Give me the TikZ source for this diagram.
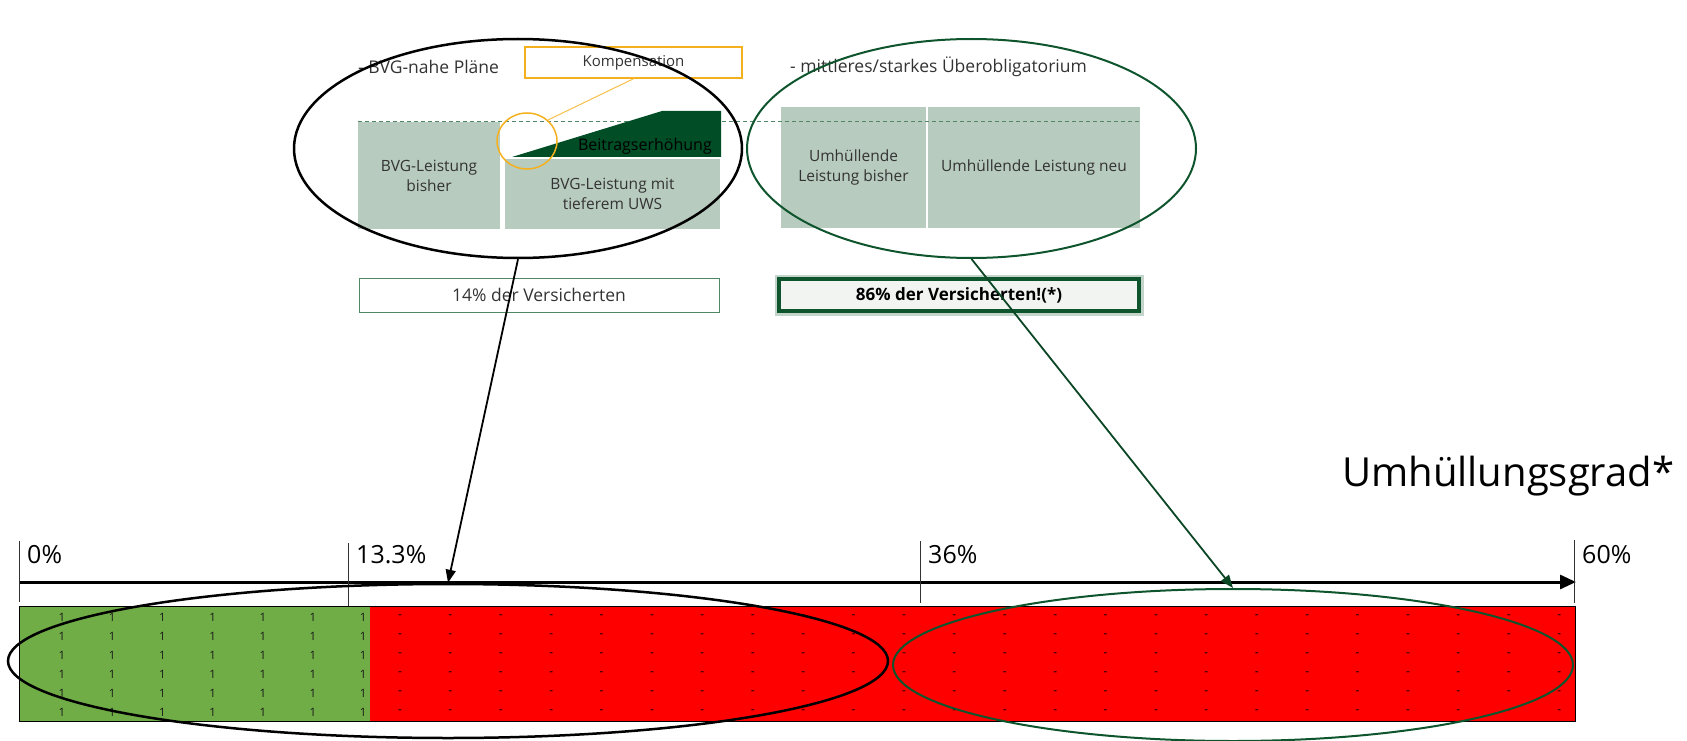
\documentclass[tikz,border=0pt]{standalone}
\usepackage{fontspec}
\setmainfont{Open Sans}
\usetikzlibrary{arrows.meta,positioning,shapes.geometric}

\definecolor{boxgray}{RGB}{184,203,191}
\definecolor{darkgreen}{RGB}{0,77,38}
\definecolor{ovalgreen}{RGB}{14,84,44}
\definecolor{komporange}{RGB}{245,176,30}
\definecolor{linegreen}{RGB}{80,135,100}
\definecolor{barred}{RGB}{255,0,0}
\definecolor{bargreen}{RGB}{112,173,71}
\definecolor{textgray}{RGB}{51,51,51}
\definecolor{sharefill}{RGB}{242,244,242}

\begin{document}
\begin{tikzpicture}[x=1pt,y=-1pt,
    fs/.style 2 args={font=\fontsize{#1}{#2}\selectfont},
    box/.style={fill=boxgray, inner sep=0pt, align=center, text=textgray, fs={15.5}{20}},
    oval/.style={ellipse, draw, inner sep=0pt},
    ticklabel/.style={fs={25}{30}, anchor=base west, inner sep=0pt},
    cell/.style={fs={11.5}{13}, inner sep=0pt, text=black!90}]
    \useasboundingbox (0,0) rectangle (1687,741);

    % BVG-nahe Plaene
    \node[fs={17.5}{20}, text=textgray, anchor=base west, inner sep=0pt] (hdrL) at (358,74) {- BVG-nahe Pläne};
    \node[box, minimum width=142pt, minimum height=107pt] (oldL) at (429,175.5) {BVG-Leistung\\bisher};
    \node[box, minimum width=215pt, minimum height=70pt] (newL) at (612.5,194) {BVG-Leistung mit\\tieferem UWS};

    % Ueberobligatorium
    \node[fs={17.5}{20}, text=textgray, anchor=base west, inner sep=0pt] (hdrR) at (790,73) {- mittleres/starkes Überobligatorium};
    \node[box, minimum width=145pt, minimum height=121pt] (oldR) at (853.5,167.5) {Umhüllende\\Leistung bisher};
    \node[box, minimum width=212pt, minimum height=121pt] (newR) at (1034,167.5) {Umhüllende Leistung neu};

    % dashed level line and contribution wedge
    \draw[linegreen, line width=0.9pt, dash pattern=on 4pt off 3pt] (358,121.5) -- (1140,121.5);
    \fill[darkgreen] (512,157) -- (662,111) -- (721,111) -- (721,157) -- cycle;
    \node[fs={16}{18}, anchor=base east, inner sep=0pt] (raise) at (712,150) {Beitragserhöhung};

    % Kompensation callout
    \node[draw=komporange, line width=1.5pt, fs={15}{18}, text=textgray, minimum width=217pt, minimum height=31pt, inner sep=0pt] (komp) at (633.5,62.5) {Kompensation};
    \node[oval, draw=komporange, line width=1.5pt, minimum width=60pt, minimum height=56pt] (ring) at (527,141) {};
    \draw[komporange!80, line width=1pt] (komp.south) -- (ring.45);

    % shares
    \node[draw=linegreen, line width=1pt, minimum width=360pt, minimum height=34pt, fs={17.5}{20}, text=textgray] (shareL) at (539,295) {14\% der Versicherten};
    \node[draw=ovalgreen, line width=4pt, fill=sharefill, preaction={draw=ovalgreen!25, line width=9pt},
          minimum width=360pt, minimum height=32pt, font=\fontsize{17}{20}\selectfont\bfseries] (shareR) at (959,295) {86\% der Versicherten!(*)};

    % upper ovals
    \node[oval, line width=2.5pt, minimum width=448pt, minimum height=219pt] (topL) at (518,148.5) {};
    \node[oval, draw=ovalgreen, line width=2pt, minimum width=449pt, minimum height=219pt] (topR) at (971.5,148.5) {};

    % scale
    \node[fs={40}{48}, anchor=base west, inner sep=0pt] (title) at (1342,486) {Umhüllungsgrad*};
    \coordinate (axis0) at (19,582);
    \coordinate (axis1) at (1576,582);
    \draw[line width=3pt, -{Triangle[length=16pt,width=14pt]}] (axis0) -- (axis1);
    \foreach \x/\lab/\ya/\yb [count=\i] in {19/0\%/541/602, 348/13.3\%/543/606, 920/36\%/541/603, 1574/60\%/540/603} {
        \draw[black!80, line width=0.8pt] (\x,\ya) -- (\x,\yb);
        \node[ticklabel] (tick\i) at (\x+8,563) {\lab};
    }

    % bar
    \fill[bargreen] (19,606) rectangle (370,721);
    \fill[barred] (370,606) rectangle (1575,721);
    \draw[line width=0.8pt] (19,606) rectangle (1575,721);
    \foreach \r in {0,...,5} {
        \foreach \c in {0,...,6}
            \node[cell] (one-\r-\c) at ({62+50.2*\c},{617+19*\r}) {1};
        \foreach \c in {0,...,23}
            \node[cell, fs={12}{13}, text=black] (nil-\r-\c) at ({400+50.4*\c},{617+19*\r}) {-};
    }

    % lower ovals
    \node[oval, line width=2.5pt, minimum width=880pt, minimum height=154pt] (botL) at (448,661) {};
    \node[oval, draw=ovalgreen, line width=2pt, minimum width=680pt, minimum height=152pt] (botR) at (1233,665) {};

    % links
    \draw[line width=1.8pt, -{Triangle[length=13pt,width=10pt]}] (topL.south) -- (botL.north);
    \draw[ovalgreen!85!black, line width=1.8pt, -{Triangle[length=13pt,width=10pt]}] (topR.south) -- (botR.north);
\end{tikzpicture}
\end{document}
